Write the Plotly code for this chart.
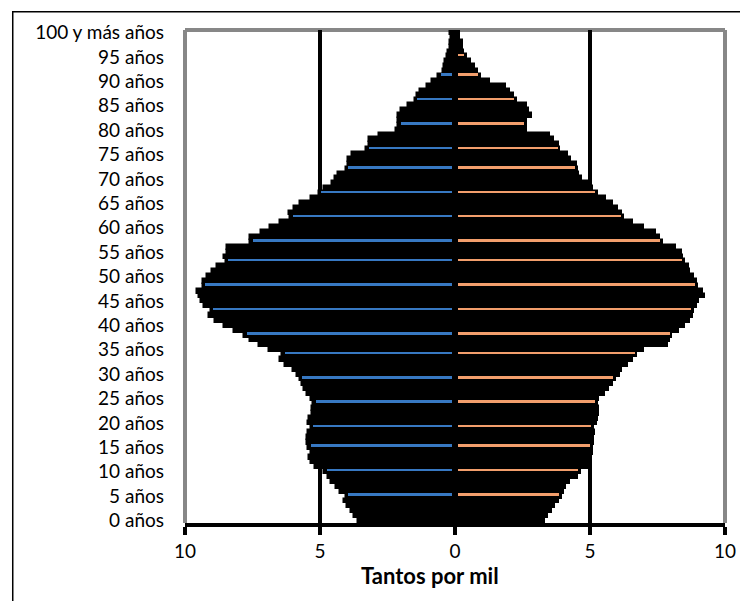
import plotly.graph_objects as go

# ── Data: tantos por mil por edad (0 .. 100 y más) ─────────────────────────
ages = list(range(0, 101))

men = [
    3.60, 3.75, 3.85, 4.00, 4.10, 4.05, 4.25, 4.40, 4.60, 4.70,   # 0-9
    4.85, 5.20, 5.35, 5.40, 5.35, 5.45, 5.50, 5.50, 5.45, 5.35,   # 10-19
    5.45, 5.40, 5.30, 5.30, 5.25, 5.35, 5.50, 5.60, 5.65, 5.75,   # 20-29
    5.85, 6.00, 6.30, 6.50, 6.40, 6.90, 7.25, 7.60, 7.80, 8.20,   # 30-39
    8.55, 8.90, 9.10, 9.05, 9.30, 9.40, 9.50, 9.55, 9.35, 9.35,   # 40-49
    9.20, 9.00, 8.80, 8.50, 8.55, 8.45, 8.45, 7.60, 7.60, 7.20,   # 50-59
    6.85, 6.50, 6.10, 6.15, 5.95, 5.75, 5.35, 5.05, 4.85, 4.55,   # 60-69
    4.45, 4.35, 4.05, 3.95, 3.95, 3.80, 3.30, 3.20, 3.20, 2.80,   # 70-79
    2.20, 2.10, 2.10, 2.10, 2.00, 1.75, 1.50, 1.40, 1.30, 1.05,   # 80-89
    0.85, 0.62, 0.45, 0.42, 0.38, 0.30, 0.25, 0.20, 0.18, 0.16,   # 90-99
    0.17,                                                         # 100+
]

women = [
    3.35, 3.45, 3.60, 3.70, 3.85, 3.95, 4.05, 4.10, 4.25, 4.55,   # 0-9
    4.65, 4.95, 5.00, 5.05, 5.10, 5.10, 5.15, 5.15, 5.20, 5.15,   # 10-19
    5.25, 5.30, 5.35, 5.35, 5.30, 5.35, 5.55, 5.70, 5.85, 5.95,   # 20-29
    6.10, 6.20, 6.40, 6.60, 6.75, 7.00, 7.90, 7.95, 8.05, 8.30,   # 30-39
    8.50, 8.70, 8.80, 8.85, 8.95, 9.05, 9.25, 9.20, 9.00, 8.95,   # 40-49
    8.85, 8.70, 8.65, 8.50, 8.45, 8.40, 8.20, 7.70, 7.60, 7.45,   # 50-59
    7.00, 6.60, 6.25, 6.20, 6.05, 5.85, 5.60, 5.30, 5.10, 4.95,   # 60-69
    4.70, 4.60, 4.55, 4.50, 4.30, 4.20, 3.90, 3.85, 3.65, 3.50,   # 70-79
    2.65, 2.65, 2.65, 2.85, 2.75, 2.65, 2.30, 2.20, 2.05, 1.90,   # 80-89
    1.30, 0.95, 0.85, 0.75, 0.60, 0.45, 0.35, 0.30, 0.28, 0.20,   # 90-99
    0.17,                                                         # 100+
]

# rows where the bar colour shows through the black outlines
men_colour_rows = [5, 10, 15, 19, 24, 29, 34, 38, 43, 48, 53, 57, 62, 67, 72, 76, 81, 86, 91]
women_colour_rows = men_colour_rows + [95]

age_ticks = list(range(0, 101, 5))
age_labels = [f"{a} años" for a in age_ticks[:-1]] + ["100 y más años"]

x_ticks = [-10, -5, 0, 5, 10]
x_labels = ["10", "5", "0", "5", "10"]

BLUE = "#3778C2"
ORANGE = "#F29E6C"
FRAME_GREY = "#878787"
FONT = "Lato"

# ── Figure ────────────────────────────────────────────────────────────────
fig = go.Figure()

# black silhouette
fig.add_trace(go.Bar(
    y=ages, x=[-v for v in men], orientation="h",
    marker=dict(color="black", line=dict(color="black", width=1.5)),
    width=1, hoverinfo="skip", name="Hombres",
))
fig.add_trace(go.Bar(
    y=ages, x=women, orientation="h",
    marker=dict(color="black", line=dict(color="black", width=1.5)),
    width=1, hoverinfo="skip", name="Mujeres",
))

# thin coloured strips
fig.add_trace(go.Bar(
    y=men_colour_rows, x=[-(men[a] - 0.2) for a in men_colour_rows],
    base=-0.1, orientation="h", width=0.4, offset=0.2,
    marker=dict(color=BLUE, line=dict(width=0)), hoverinfo="skip",
))
fig.add_trace(go.Bar(
    y=women_colour_rows, x=[women[a] - 0.2 for a in women_colour_rows],
    base=0.1, orientation="h", width=0.4, offset=0.2,
    marker=dict(color=ORANGE, line=dict(width=0)), hoverinfo="skip",
))

fig.update_layout(
    width=740, height=593,
    barmode="overlay", bargap=0,
    showlegend=False,
    paper_bgcolor="white", plot_bgcolor="white",
    margin=dict(l=177, r=19, t=19, b=78),
    font=dict(family=FONT, size=19, color="black"),
    xaxis=dict(
        range=[-10, 10], tickvals=x_ticks, ticktext=x_labels,
        showgrid=True, gridcolor="black", gridwidth=4, zeroline=False,
        showline=True, linecolor="black", linewidth=4,
        ticks="outside", ticklen=8, tickwidth=4, tickcolor="black",
        tickfont=dict(size=19),
        fixedrange=True,
    ),
    yaxis=dict(
        range=[-0.5, 100.5], tickvals=age_ticks, ticktext=age_labels,
        showgrid=False, zeroline=False, showline=False,
        ticks="", ticklabelstandoff=20, tickfont=dict(size=19),
        fixedrange=True,
    ),
    annotations=[
        dict(text="<b>Tantos por mil</b>", xref="paper", yref="paper",
             x=0.453, y=0, yanchor="middle", yshift=-52, showarrow=False,
             font=dict(size=22)),
    ],
    shapes=[
        # grey plot frame (left, top, right)
        dict(type="line", xref="paper", yref="paper", x0=0, x1=0, y0=0, y1=1,
             line=dict(color=FRAME_GREY, width=4), layer="between"),
        dict(type="line", xref="paper", yref="paper", x0=1, x1=1, y0=0, y1=1,
             line=dict(color=FRAME_GREY, width=4), layer="between"),
        dict(type="line", xref="paper", yref="paper", x0=0, x1=1, y0=1, y1=1,
             line=dict(color=FRAME_GREY, width=4), layer="between"),
        # outer chart border (only top and left fall inside the picture)
        dict(type="rect", xref="paper", yref="paper",
             x0=-0.3190, x1=1.2, y0=-0.4, y1=1.0368,
             line=dict(color="black", width=1.5), layer="below"),
    ],
)

fig.write_html("out.html")
